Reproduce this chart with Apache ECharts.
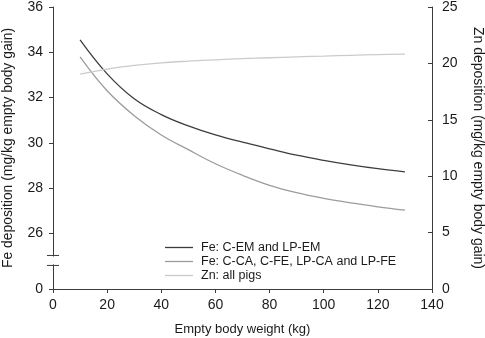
<!DOCTYPE html>
<html>
<head>
<meta charset="utf-8">
<script src="https://cdn.jsdelivr.net/npm/echarts@6/dist/echarts.min.js"></script>
<style>
  html, body { margin: 0; padding: 0; background: #fff; }
  #chart { width: 485px; height: 338px; }
</style>
</head>
<body>
<div id="chart"></div>
<script>
// empty body weight (kg)
const weights = [10, 20, 30, 40, 50, 60, 70, 80, 90, 100, 110, 120, 130]
// Fe deposition, mg/kg empty body gain
const feEm = [34.55, 33.05, 31.95, 31.25, 30.75, 30.35, 30.03, 29.74, 29.46, 29.23, 29.03, 28.86, 28.72]
const feOther = [33.8, 32.3, 31.2, 30.35, 29.7, 29.08, 28.57, 28.13, 27.8, 27.55, 27.35, 27.18, 27.03]
// Zn deposition, mg/kg empty body gain
const znAll = [19.05, 19.5, 19.82, 20.05, 20.2, 20.32, 20.42, 20.5, 20.58, 20.65, 20.72, 20.78, 20.83]

// left axis is broken: bottom shows 0, then jumps to 26..36
const feMin = 23.55
const feTicks = [feMin, 26, 28, 30, 32, 34, 36]
const breakHi = 25.03
const breakLo = 24.59

const txt = '#1a1a1a'
const axisColor = '#3c3c3c'
const font = 'Liberation Sans, Arial, sans-serif'

const pairs = arr => weights.map((w, i) => [w, arr[i]])

const chart = echarts.init(document.getElementById('chart'))

chart.setOption({
  animation: false,
  textStyle: { fontFamily: font },
  grid: { left: 53, right: 53, top: 7, bottom: 49, outerBoundsMode: 'none', containLabel: false },
  legend: {
    orient: 'vertical',
    left: 160,
    top: 236,
    itemWidth: 28,
    itemHeight: 1.3,
    itemGap: 1,
    icon: 'rect',
    textStyle: { fontSize: 12.5, color: txt, padding: [0, 0, 0, 3] },
    data: ['Fe: C-EM and LP-EM', 'Fe: C-CA, C-FE, LP-CA and LP-FE', 'Zn: all pigs']
  },
  xAxis: {
    type: 'value',
    min: 0,
    max: 140,
    interval: 20,
    name: 'Empty body weight (kg)',
    nameLocation: 'middle',
    nameGap: 34,
    nameTextStyle: { fontSize: 13, color: txt },
    axisLine: { lineStyle: { color: axisColor } },
    axisTick: { length: 4, lineStyle: { color: axisColor } },
    axisLabel: { fontSize: 14, color: txt, margin: 9 },
    splitLine: { show: false }
  },
  yAxis: [{
    type: 'value',
    position: 'left',
    min: feMin,
    max: 36,
    name: 'Fe deposition (mg/kg empty body gain)',
    nameLocation: 'middle',
    nameGap: 38,
    nameTextStyle: { fontSize: 13.9, color: txt },
    axisLine: { show: true, lineStyle: { color: axisColor } },
    axisTick: { show: true, length: 4, customValues: feTicks, lineStyle: { color: axisColor } },
    axisLabel: {
      fontSize: 14,
      color: txt,
      margin: 10,
      customValues: feTicks,
      formatter: v => (v === feMin ? '0' : String(v))
    },
    splitLine: { show: false }
  }, {
    type: 'value',
    position: 'right',
    min: 0,
    max: 25,
    interval: 5,
    name: 'Zn deposition (mg/kg empty body gain)',
    nameLocation: 'middle',
    nameRotate: -90,
    nameGap: 39,
    nameTextStyle: { fontSize: 14, color: txt },
    axisLine: { show: true, lineStyle: { color: axisColor } },
    axisTick: { show: true, inside: true, length: 4, lineStyle: { color: axisColor } },
    axisLabel: { fontSize: 14, color: txt, margin: 10 },
    splitLine: { show: false }
  }],
  series: [{
    name: 'Fe: C-EM and LP-EM',
    type: 'line',
    yAxisIndex: 0,
    smooth: 0.4,
    showSymbol: false,
    data: pairs(feEm),
    lineStyle: { color: '#3d3d3d', width: 1.3 },
    itemStyle: { color: '#3d3d3d' }
  }, {
    name: 'Fe: C-CA, C-FE, LP-CA and LP-FE',
    type: 'line',
    yAxisIndex: 0,
    smooth: 0.4,
    showSymbol: false,
    data: pairs(feOther),
    lineStyle: { color: '#9c9c9c', width: 1.3 },
    itemStyle: { color: '#9c9c9c' }
  }, {
    name: 'Zn: all pigs',
    type: 'line',
    yAxisIndex: 1,
    smooth: 0.4,
    showSymbol: false,
    data: pairs(znAll),
    lineStyle: { color: '#cbcbcb', width: 1.3 },
    itemStyle: { color: '#cbcbcb' }
  }]
})

// break marks on the left axis
const ax = chart.convertToPixel({ xAxisIndex: 0 }, 0)
const yHi = chart.convertToPixel({ yAxisIndex: 0 }, breakHi)
const yLo = chart.convertToPixel({ yAxisIndex: 0 }, breakLo)
chart.setOption({
  graphic: [{
    type: 'rect',
    shape: { x: ax - 3, y: yHi + 1, width: 6, height: yLo - yHi - 2 },
    style: { fill: '#fff' },
    z: 100
  }, {
    type: 'line',
    shape: { x1: ax - 6, y1: yHi, x2: ax + 6, y2: yHi },
    style: { stroke: axisColor, lineWidth: 1 },
    z: 101
  }, {
    type: 'line',
    shape: { x1: ax - 6, y1: yLo, x2: ax + 6, y2: yLo },
    style: { stroke: axisColor, lineWidth: 1 },
    z: 101
  }]
})
</script>
</body>
</html>
